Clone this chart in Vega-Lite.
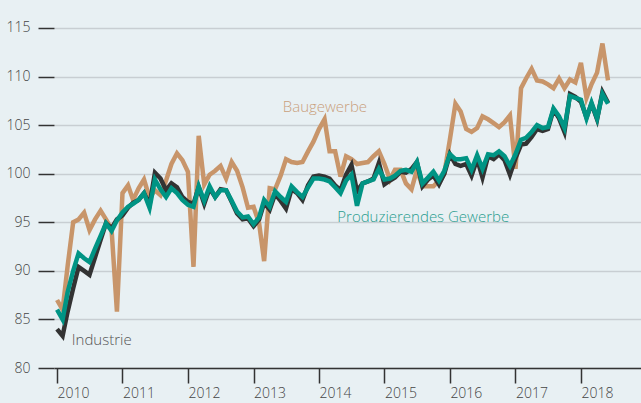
{
  "$schema": "https://vega.github.io/schema/vega-lite/v6.json",
  "width": 587,
  "height": 368,
  "autosize": {"type": "none"},
  "padding": {"left": 54, "top": 0, "right": 0, "bottom": 35},
  "background": "#e8f0f3",
  "config": {"view": {"stroke": null}, "font": "Open Sans"},
  "datasets": {
    "series": [
      {"date":"2010-01-01","B":87.0,"I":84.0,"P":86.0},
      {"date":"2010-02-01","B":86.0,"I":83.3,"P":85.0},
      {"date":"2010-03-01","B":90.5,"I":85.8,"P":87.8},
      {"date":"2010-04-01","B":95.0,"I":88.2,"P":90.0},
      {"date":"2010-05-01","B":95.3,"I":90.4,"P":91.8},
      {"date":"2010-06-01","B":96.0,"I":90.0,"P":91.3},
      {"date":"2010-07-01","B":94.2,"I":89.6,"P":90.9},
      {"date":"2010-08-01","B":95.3,"I":91.4,"P":92.3},
      {"date":"2010-09-01","B":96.2,"I":93.2,"P":93.6},
      {"date":"2010-10-01","B":95.3,"I":94.9,"P":94.9},
      {"date":"2010-11-01","B":94.3,"I":94.4,"P":94.1},
      {"date":"2010-12-01","B":85.8,"I":95.3,"P":95.2},
      {"date":"2011-01-01","B":98.0,"I":95.7,"P":96.0},
      {"date":"2011-02-01","B":98.8,"I":96.5,"P":96.6},
      {"date":"2011-03-01","B":97.3,"I":97.0,"P":96.9},
      {"date":"2011-04-01","B":98.5,"I":97.3,"P":97.3},
      {"date":"2011-05-01","B":99.4,"I":98.0,"P":98.0},
      {"date":"2011-06-01","B":97.5,"I":96.8,"P":96.5},
      {"date":"2011-07-01","B":98.3,"I":100.1,"P":99.4},
      {"date":"2011-08-01","B":97.8,"I":99.5,"P":98.4},
      {"date":"2011-09-01","B":99.3,"I":98.3,"P":97.6},
      {"date":"2011-10-01","B":101.0,"I":99.0,"P":98.5},
      {"date":"2011-11-01","B":102.1,"I":98.6,"P":98.0},
      {"date":"2011-12-01","B":101.4,"I":97.6,"P":97.3},
      {"date":"2012-01-01","B":100.2,"I":97.1,"P":96.8},
      {"date":"2012-02-01","B":90.4,"I":96.9,"P":96.6},
      {"date":"2012-03-01","B":103.9,"I":98.6,"P":98.7},
      {"date":"2012-04-01","B":98.9,"I":96.9,"P":97.2},
      {"date":"2012-05-01","B":99.9,"I":98.5,"P":98.7},
      {"date":"2012-06-01","B":100.3,"I":97.6,"P":97.6},
      {"date":"2012-07-01","B":100.8,"I":98.4,"P":98.3},
      {"date":"2012-08-01","B":99.5,"I":98.3,"P":98.3},
      {"date":"2012-09-01","B":101.2,"I":97.1,"P":97.2},
      {"date":"2012-10-01","B":100.3,"I":95.9,"P":96.1},
      {"date":"2012-11-01","B":98.6,"I":95.3,"P":95.5},
      {"date":"2012-12-01","B":96.5,"I":95.4,"P":95.6},
      {"date":"2013-01-01","B":96.6,"I":94.6,"P":94.8},
      {"date":"2013-02-01","B":94.9,"I":95.3,"P":95.5},
      {"date":"2013-03-01","B":91.0,"I":97.0,"P":97.3},
      {"date":"2013-04-01","B":98.5,"I":96.3,"P":96.6},
      {"date":"2013-05-01","B":98.4,"I":97.9,"P":98.2},
      {"date":"2013-06-01","B":99.8,"I":97.2,"P":97.6},
      {"date":"2013-07-01","B":101.5,"I":96.4,"P":97.1},
      {"date":"2013-08-01","B":101.2,"I":98.4,"P":98.7},
      {"date":"2013-09-01","B":101.1,"I":98.0,"P":98.1},
      {"date":"2013-10-01","B":101.2,"I":97.3,"P":97.6},
      {"date":"2013-11-01","B":102.3,"I":98.8,"P":98.6},
      {"date":"2013-12-01","B":103.3,"I":99.7,"P":99.5},
      {"date":"2014-01-01","B":104.6,"I":99.8,"P":99.5},
      {"date":"2014-02-01","B":105.6,"I":99.7,"P":99.4},
      {"date":"2014-03-01","B":102.3,"I":99.5,"P":99.2},
      {"date":"2014-04-01","B":102.3,"I":98.8,"P":98.6},
      {"date":"2014-05-01","B":99.7,"I":98.3,"P":98.0},
      {"date":"2014-06-01","B":101.8,"I":99.9,"P":99.3},
      {"date":"2014-07-01","B":101.5,"I":100.9,"P":99.9},
      {"date":"2014-08-01","B":101.0,"I":98.2,"P":96.7},
      {"date":"2014-09-01","B":101.1,"I":99.0,"P":99.0},
      {"date":"2014-10-01","B":101.2,"I":99.2,"P":99.2},
      {"date":"2014-11-01","B":101.8,"I":99.5,"P":99.4},
      {"date":"2014-12-01","B":102.3,"I":101.1,"P":100.5},
      {"date":"2015-01-01","B":101.0,"I":98.9,"P":99.4},
      {"date":"2015-02-01","B":99.4,"I":99.3,"P":99.5},
      {"date":"2015-03-01","B":100.4,"I":99.6,"P":99.8},
      {"date":"2015-04-01","B":100.4,"I":100.2,"P":100.3},
      {"date":"2015-05-01","B":99.0,"I":100.1,"P":100.4},
      {"date":"2015-06-01","B":98.4,"I":100.5,"P":100.2},
      {"date":"2015-07-01","B":100.4,"I":101.2,"P":101.2},
      {"date":"2015-08-01","B":98.7,"I":98.7,"P":99.0},
      {"date":"2015-09-01","B":98.7,"I":99.4,"P":99.6},
      {"date":"2015-10-01","B":98.7,"I":99.8,"P":100.2},
      {"date":"2015-11-01","B":99.3,"I":98.9,"P":99.3},
      {"date":"2015-12-01","B":100.0,"I":100.0,"P":100.3},
      {"date":"2016-01-01","B":103.5,"I":102.0,"P":102.0},
      {"date":"2016-02-01","B":107.2,"I":101.0,"P":101.5},
      {"date":"2016-03-01","B":106.4,"I":100.8,"P":101.5},
      {"date":"2016-04-01","B":104.6,"I":101.0,"P":101.6},
      {"date":"2016-05-01","B":104.3,"I":99.8,"P":100.4},
      {"date":"2016-06-01","B":104.7,"I":101.5,"P":101.9},
      {"date":"2016-07-01","B":105.9,"I":99.6,"P":100.5},
      {"date":"2016-08-01","B":105.6,"I":101.8,"P":102.0},
      {"date":"2016-09-01","B":105.2,"I":101.5,"P":101.9},
      {"date":"2016-10-01","B":104.8,"I":102.0,"P":102.3},
      {"date":"2016-11-01","B":105.3,"I":101.4,"P":101.8},
      {"date":"2016-12-01","B":106.0,"I":99.9,"P":100.8},
      {"date":"2017-01-01","B":100.5,"I":101.6,"P":102.0},
      {"date":"2017-02-01","B":108.8,"I":103.0,"P":103.5},
      {"date":"2017-03-01","B":109.8,"I":103.1,"P":103.7},
      {"date":"2017-04-01","B":110.8,"I":103.8,"P":104.3},
      {"date":"2017-05-01","B":109.6,"I":104.6,"P":105.0},
      {"date":"2017-06-01","B":109.5,"I":104.4,"P":104.7},
      {"date":"2017-07-01","B":109.2,"I":104.6,"P":104.8},
      {"date":"2017-08-01","B":108.8,"I":106.6,"P":106.7},
      {"date":"2017-09-01","B":109.8,"I":105.7,"P":105.9},
      {"date":"2017-10-01","B":108.8,"I":104.3,"P":104.7},
      {"date":"2017-11-01","B":109.7,"I":108.2,"P":108.0},
      {"date":"2017-12-01","B":109.4,"I":107.9,"P":107.8},
      {"date":"2018-01-01","B":111.4,"I":107.4,"P":107.6},
      {"date":"2018-02-01","B":107.8,"I":105.8,"P":105.7},
      {"date":"2018-03-01","B":109.2,"I":107.2,"P":107.3},
      {"date":"2018-04-01","B":110.4,"I":105.6,"P":105.7},
      {"date":"2018-05-01","B":113.4,"I":108.4,"P":108.2},
      {"date":"2018-06-01","B":109.6,"I":107.3,"P":107.2}
    ],
    "labels": [
      {"date":"2010-03-24","v":82.37,"label":"Industrie"},
      {"date":"2013-06-13","v":106.38,"label":"Baugewerbe"},
      {"date":"2014-04-13","v":95.06,"label":"Produzierendes Gewerbe"}
    ]
  },
  "encoding": {
    "x": {
      "field": "date",
      "type": "temporal",
      "scale": {
        "type": "utc",
        "domain": [
          {"year": 2009, "month": 12, "date": 15, "utc": true},
          {"year": 2018, "month": 12, "date": 2, "utc": true}
        ]
      },
      "axis": {
        "title": null,
        "format": "%Y",
        "tickCount": {"interval": "year", "step": 1},
        "tickSize": 15,
        "tickColor": "#333333",
        "tickWidth": 1.5,
        "labelAlign": "left",
        "labelBaseline": "top",
        "labelPadding": 3,
        "labelFontSize": 14,
        "labelFontWeight": 300,
        "labelColor": "#444444",
        "labelFlush": false,
        "labelOverlap": false,
        "domainColor": "#333333",
        "domainWidth": 1.5,
        "grid": false
      }
    },
    "y": {
      "field": "v",
      "type": "quantitative",
      "scale": {"domain": [80, 117.88], "nice": false, "zero": false},
      "axis": {
        "title": null,
        "values": [80, 85, 90, 95, 100, 105, 110, 115],
        "tickSize": 16,
        "tickColor": "#333333",
        "tickWidth": 1.5,
        "domain": false,
        "grid": true,
        "gridColor": "#c8ced2",
        "gridWidth": 1.5,
        "labelPadding": 8,
        "labelFontSize": 14,
        "labelFontWeight": 300,
        "labelColor": "#444444"
      }
    }
  },
  "layer": [
    {
      "data": {"name": "series"},
      "transform": [{"fold": ["B"], "as": ["s", "v"]}],
      "mark": {"type": "line", "color": "#c8956a", "strokeWidth": 4.5}
    },
    {
      "data": {"name": "series"},
      "transform": [{"fold": ["I"], "as": ["s", "v"]}],
      "mark": {"type": "line", "color": "#333333", "strokeWidth": 4.5}
    },
    {
      "data": {"name": "series"},
      "transform": [{"fold": ["P"], "as": ["s", "v"]}],
      "mark": {"type": "line", "color": "#009484", "strokeWidth": 4.5}
    },
    {
      "data": {"name": "labels"},
      "mark": {"type": "text", "align": "left", "baseline": "alphabetic", "fontSize": 15, "fontWeight": 300, "font": "Open Sans"},
      "encoding": {
        "text": {"field": "label"},
        "color": {
          "field": "label",
          "type": "nominal",
          "scale": {"domain": ["Industrie", "Baugewerbe", "Produzierendes Gewerbe"], "range": ["#555555", "#c9a07c", "#2a9d8f"]},
          "legend": null
        }
      }
    }
  ]
}
